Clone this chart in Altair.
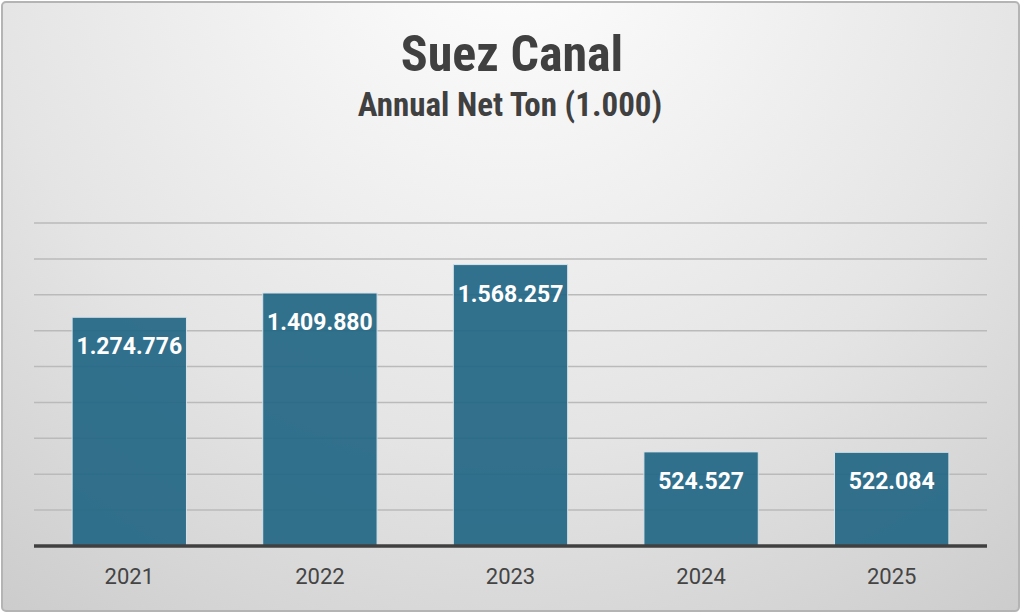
import altair as alt
import pandas as pd

years = ["2021", "2022", "2023", "2024", "2025"]
net_ton = [1274776, 1409880, 1568257, 524527, 522084]
labels = ["1.274.776", "1.409.880", "1.568.257", "524.527", "522.084"]
grid_values = list(range(200000, 1800001, 200000))

df = pd.DataFrame({"year": years, "value": net_ton, "label": labels})

PLOT_W, PLOT_H = 953, 323
LEFT, TOP = 34, 223
Y_DOMAIN = [0, 1800000]
y_scale = alt.Scale(domain=Y_DOMAIN, nice=False)

frame_font = "Liberation Sans Narrow, Roboto Condensed, DejaVu Sans Condensed, Roboto, sans-serif"

# Card behind everything: radial gradient with a rounded grey frame
card = alt.Chart(pd.DataFrame({"k": [0]})).mark_rect(
    cornerRadius=4,
    stroke="#b4b4b4",
    strokeWidth=2,
    color=alt.Gradient(
        gradient="radial",
        stops=[
            alt.GradientStop(color="#ffffff", offset=0),
            alt.GradientStop(color="#e4e4e4", offset=0.55),
            alt.GradientStop(color="#c4c4c4", offset=1),
        ],
        x1=0.5, y1=0.12, r1=0, x2=0.5, y2=0.12, r2=0.95,
    ),
).encode(
    x=alt.value(2 - LEFT), x2=alt.value(1019 - LEFT),
    y=alt.value(2 - TOP), y2=alt.value(611 - TOP),
)

# Horizontal gridlines, drawn above the card and beneath the bars
grid = alt.Chart(pd.DataFrame({"v": grid_values})).mark_rule(
    color="#bababa", strokeWidth=1.5,
).encode(
    y=alt.Y("v:Q", scale=y_scale, axis=None),
    x=alt.value(0), x2=alt.value(PLOT_W),
)

x_enc = alt.X(
    "year:N", sort=years, title=None,
    scale=alt.Scale(paddingInner=0.4, paddingOuter=0.2),
    axis=alt.Axis(
        labelAngle=0, labelFont="Roboto", labelFontSize=22, labelColor="#444444",
        labelPadding=20, ticks=False, domain=False, grid=False, zindex=1,
    ),
)

bars = alt.Chart(df).mark_bar(
    color="#236785", opacity=0.92, stroke="#d6e4ec", strokeWidth=1,
).encode(x=x_enc, y=alt.Y("value:Q", title=None, scale=y_scale, axis=None))

baseline = alt.Chart(pd.DataFrame({"v": [0]})).mark_rule(
    color="#404040", strokeWidth=3.5,
).encode(y=alt.Y("v:Q", scale=y_scale, axis=None),
         x=alt.value(0), x2=alt.value(PLOT_W))

value_text = alt.Chart(df).mark_text(
    color="white", font="Roboto", fontWeight="bold", fontSize=23,
    baseline="middle", dy=30,
).encode(x=alt.X("year:N", sort=years), y=alt.Y("value:Q", scale=y_scale, axis=None),
         text="label:N")

title_text = alt.Chart(pd.DataFrame({"t": ["Suez Canal"]})).mark_text(
    font=frame_font, fontWeight="bold", fontSize=50, color="#404040",
    baseline="middle", align="center",
).encode(x=alt.value(512 - LEFT), y=alt.value(56 - TOP), text="t:N")

subtitle_text = alt.Chart(pd.DataFrame({"t": ["Annual Net Ton (1.000)"]})).mark_text(
    font=frame_font, fontWeight="bold", fontSize=33, color="#404040",
    baseline="middle", align="center",
).encode(x=alt.value(510 - LEFT), y=alt.value(106 - TOP), text="t:N")

chart = alt.layer(card, grid, bars, baseline, value_text, title_text, subtitle_text).properties(
    width=PLOT_W, height=PLOT_H,
    padding={"left": LEFT, "top": TOP, "right": 1024 - LEFT - PLOT_W, "bottom": 615 - TOP - PLOT_H},
    autosize=alt.AutoSizeParams(type="none"),
    background="white",
).configure_view(stroke=None)

chart.save("out.html", embed_options={"renderer": "svg", "actions": False})
